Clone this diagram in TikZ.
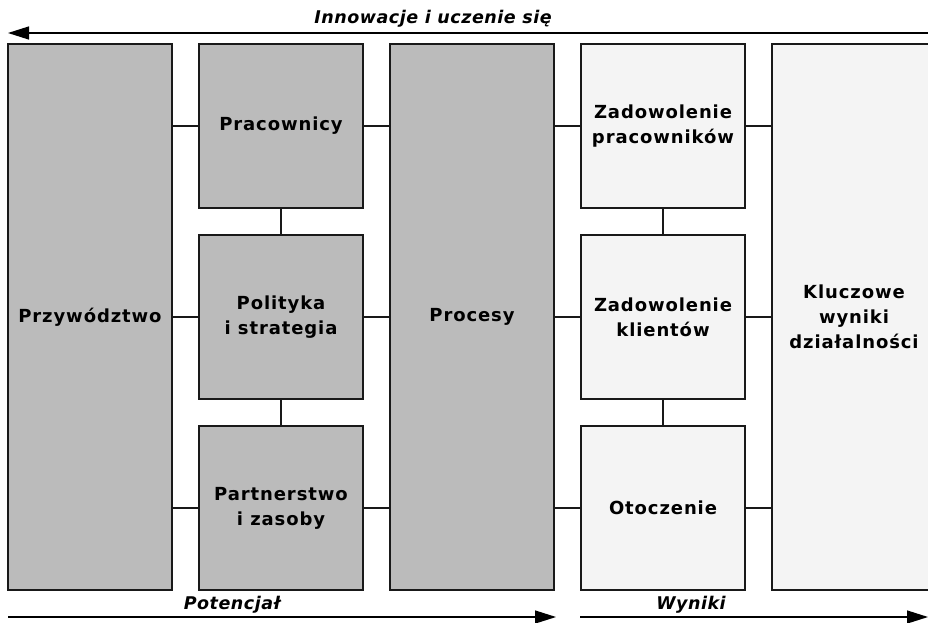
\documentclass[tikz,border=0pt]{standalone}
\usepackage{fontspec}
\setsansfont{DejaVu Sans}
\newfontfamily\boxfont{DejaVu Sans}[LetterSpace=5]
\newfontfamily\arrowfont{DejaVu Sans}[LetterSpace=3]
\usepackage{xcolor}
\usepackage{tikz}
\usetikzlibrary{arrows.meta,positioning}

\definecolor{boxgray}{HTML}{BBBBBB}
\definecolor{boxlight}{HTML}{F4F4F4}

\begin{document}
\begin{tikzpicture}[
  x=1pt, y=1pt,
  node distance=25.8pt and 25.8pt,
  box/.style={draw=black!90, line width=1.2pt, align=center, minimum width=164pt,
              inner sep=2pt, font=\boxfont\bfseries\fontsize{18}{25}\selectfont},
  tallbox/.style={box, minimum height=546pt},
  smallbox/.style={box, minimum height=164pt},
  dark/.style={fill=boxgray},
  light/.style={fill=boxlight},
  link/.style={draw=black!90, line width=1.2pt},
  arrow/.style={-{Triangle[length=21pt,width=13pt]}, line width=1.3pt},
  caption/.style={font=\arrowfont\bfseries\itshape\fontsize{17.5}{20}\selectfont}
]
\useasboundingbox[fill=white] (0,0) rectangle (928,-623);
\clip (0,0) rectangle (928,-623);

% potential
\node[tallbox, dark] (przywodztwo) at (90,-317) {Przywództwo};
\node[smallbox, dark, right=of przywodztwo.north east, anchor=north west] (pracownicy) {Pracownicy};
\node[smallbox, dark, below=of pracownicy] (polityka) {Polityka\\i strategia};
\node[smallbox, dark, below=of polityka] (partnerstwo) {Partnerstwo\\i zasoby};
\node[tallbox, dark, right=of polityka] (procesy) {Procesy};

% results
\node[smallbox, light, right=of procesy.north east, anchor=north west] (zadprac) {Zadowolenie\\pracowników};
\node[smallbox, light, below=of zadprac] (zadklient) {Zadowolenie\\klientów};
\node[smallbox, light, below=of zadklient] (otoczenie) {Otoczenie};
\node[tallbox, light, right=of zadklient] (kluczowe) {Kluczowe\\wyniki\\działalności};

% links
\draw[link] (pracownicy.west) -- (pracownicy.west -| przywodztwo.east);
\draw[link] (polityka.west) -- (polityka.west -| przywodztwo.east);
\draw[link] (partnerstwo.west) -- (partnerstwo.west -| przywodztwo.east);
\draw[link] (pracownicy.east) -- (pracownicy.east -| procesy.west);
\draw[link] (polityka.east) -- (polityka.east -| procesy.west);
\draw[link] (partnerstwo.east) -- (partnerstwo.east -| procesy.west);
\draw[link] (pracownicy) -- (polityka);
\draw[link] (polityka) -- (partnerstwo);
\draw[link] (zadprac.west) -- (zadprac.west -| procesy.east);
\draw[link] (zadklient.west) -- (zadklient.west -| procesy.east);
\draw[link] (otoczenie.west) -- (otoczenie.west -| procesy.east);
\draw[link] (zadprac.east) -- (zadprac.east -| kluczowe.west);
\draw[link] (zadklient.east) -- (zadklient.east -| kluczowe.west);
\draw[link] (otoczenie.east) -- (otoczenie.east -| kluczowe.west);
\draw[link] (zadprac) -- (zadklient);
\draw[link] (zadklient) -- (otoczenie);

% arrows
\coordinate (innR) at (930,-33);
\coordinate (innL) at (8,-33);
\coordinate (potL) at (8,-617);
\coordinate (potR) at (556,-617);
\coordinate (wynL) at (580,-617);
\coordinate (wynR) at (928,-617);
\draw[arrow] (innR) -- (innL);
\draw[arrow] (potL) -- (potR);
\draw[arrow] (wynL) -- (wynR);
\node[caption] (innowacje) at (433,-19) {Innowacje i uczenie się};
\node[caption] (potencjal) at (232,-605) {Potencjał};
\node[caption] (wyniki) at (691,-605) {Wyniki};
\end{tikzpicture}
\end{document}
